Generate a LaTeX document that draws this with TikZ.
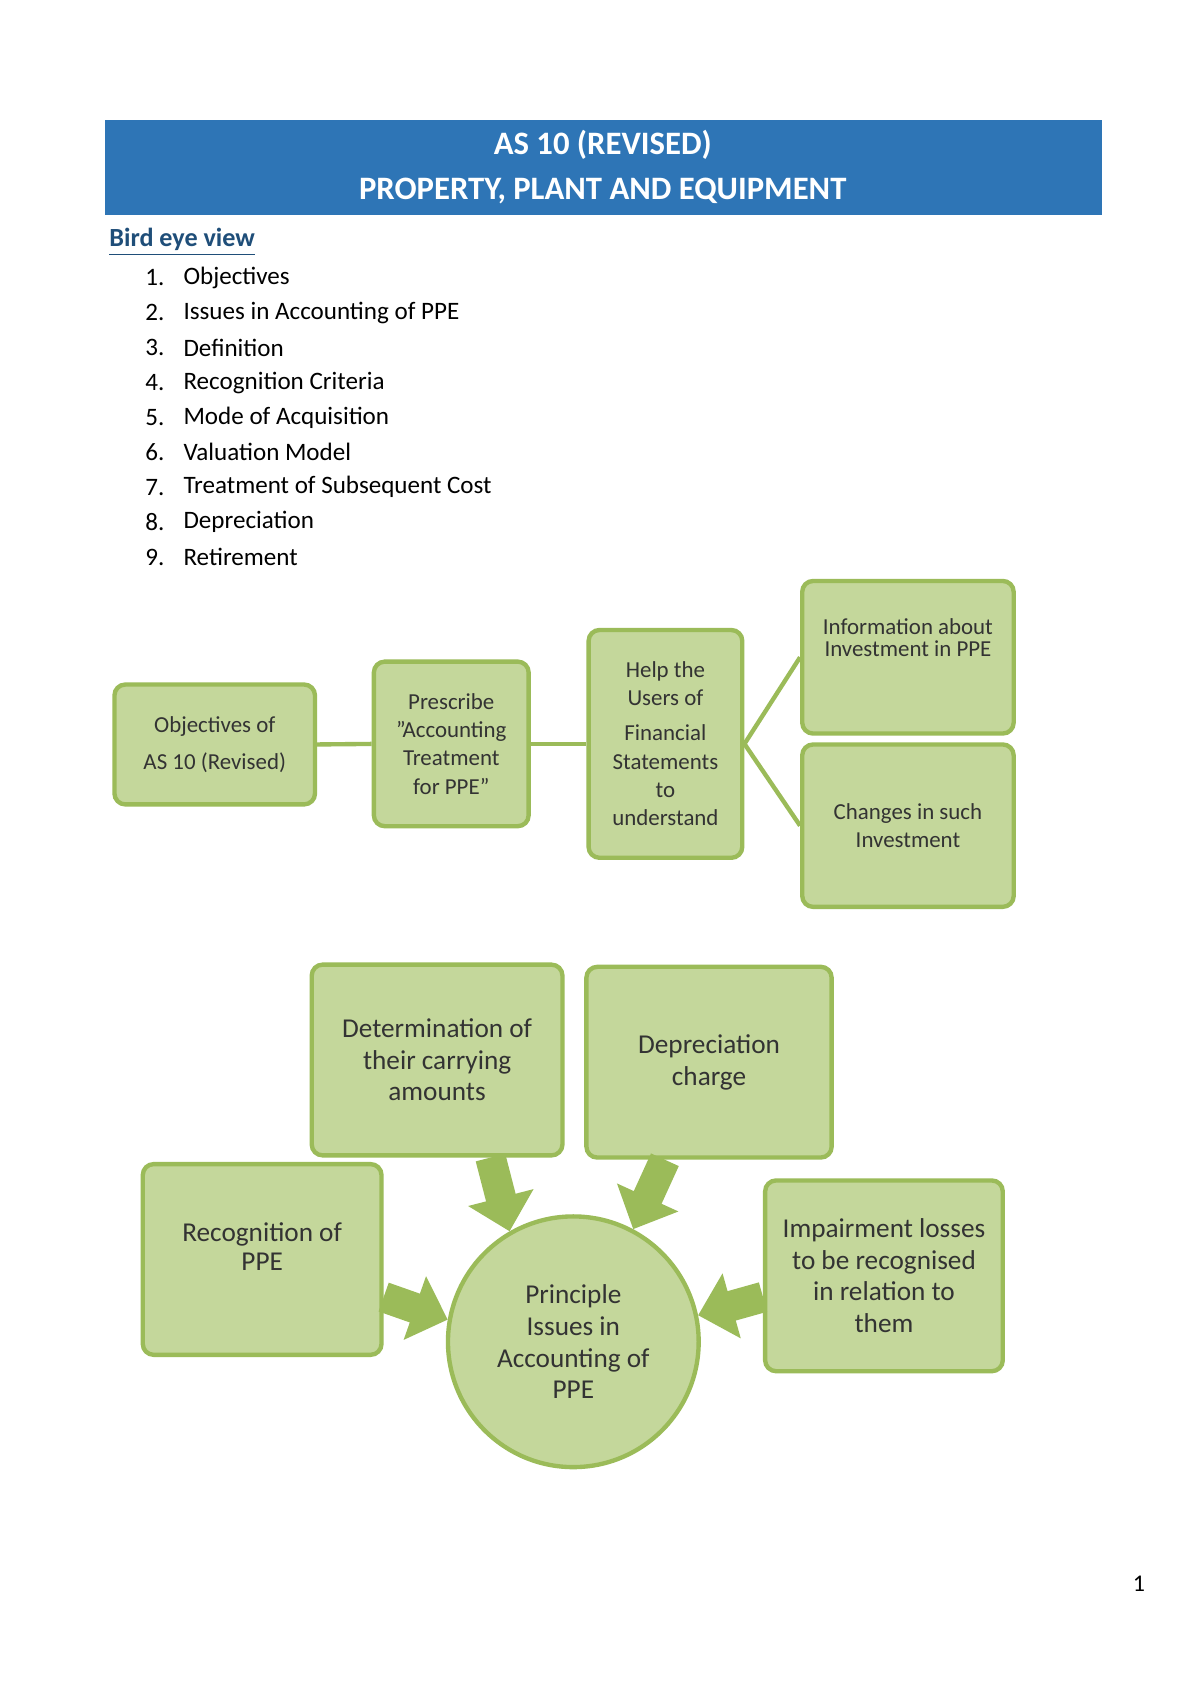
\documentclass[tikz,border=0pt]{standalone}
\usepackage{fontspec}
\setmainfont{Carlito}
\usetikzlibrary{arrows.meta}
\definecolor{titleblue}{RGB}{46,117,182}
\definecolor{darkblue}{RGB}{31,78,121}
\definecolor{gfill}{RGB}{196,215,155}
\definecolor{gline}{RGB}{155,187,89}
\begin{document}
\begin{tikzpicture}[x=0.5pt,y=-0.5pt,
  box/.style={draw=gline,fill=gfill,line width=2pt,rounded corners=5pt,align=center,inner sep=0pt,text=black!80},
  sm/.style={font=\fontsize{10.5}{13}\selectfont},
  bg/.style={font=\fontsize{12.5}{14.5}\selectfont},
  link/.style={draw=gline,line width=2pt},
  barrow/.style={draw=gline,line width=14pt,-{Triangle[length=16pt,width=30pt]},shorten >=0pt}]
\useasboundingbox (0,0) rectangle (1100,1556);
\fill[white] (0,0) rectangle (1100,1556);
% title
\node[fill=titleblue,minimum width=457.5pt,minimum height=43.5pt,inner sep=0pt,anchor=north west] (title) at (96,110) {};
\node[text=white,font=\bfseries\fontsize{15}{20}\selectfont] (t1) at (553,133) {AS 10 (REVISED)};
\node[text=white,font=\bfseries\fontsize{15}{20}\selectfont] (t2) at (553,175) {PROPERTY, PLANT AND EQUIPMENT};
\node[anchor=west,text=darkblue,font=\bfseries\fontsize{12}{14}\selectfont,inner sep=0pt] (bev) at (100,222) {\underline{Bird eye view}};
\foreach \t [count=\i] in {Objectives,Issues in Accounting of PPE,Definition,Recognition Criteria,Mode of Acquisition,Valuation Model,Treatment of Subsequent Cost,Depreciation,Retirement}{
  \node[anchor=west,inner sep=0pt,font=\fontsize{11.5}{14}\selectfont] (n\i) at (133,{255+32*(\i-1)}) {\i.};
  \node[anchor=west,inner sep=0pt,font=\fontsize{11.5}{14}\selectfont] (l\i) at (168,{255+32*(\i-1)}) {\t};
}
% top diagram
\node[box,sm,minimum width=92pt,minimum height=55pt] (obj) at (197,683) {Objectives of\\[4pt]AS 10 (Revised)};
\node[box,sm,minimum width=71pt,minimum height=75.5pt] (pre) at (414,682.5) {Prescribe\\"Accounting\\Treatment\\for PPE"};
\node[box,sm,minimum width=70.5pt,minimum height=104.5pt] (help) at (610.5,682.5) {Help the\\Users of\\[3pt]Financial\\Statements\\to\\understand};
\node[box,sm,minimum width=97pt,minimum height=70pt,text depth=0pt] (info) at (833,603) {\raisebox{18pt}{\shortstack{Information about\\Investment in PPE}}};
\node[box,sm,minimum width=97pt,minimum height=74.5pt] (chg) at (833,757.5) {Changes in such\\Investment};
\draw[link] (obj.east) -- (pre.west);
\draw[link] (pre.east) -- (help.west);
\draw[link] (help.east) -- (info.west);
\draw[link] (help.east) -- (chg.west);
% bottom diagram
\node[box,bg,minimum width=115pt,minimum height=87.5pt] (det) at (401,972.5) {Determination of\\their carrying\\amounts};
\node[box,bg,minimum width=112.5pt,minimum height=87.5pt] (dep) at (650.5,974.5) {Depreciation\\charge};
\node[box,bg,minimum width=109.5pt,minimum height=87.5pt] (rec) at (240.5,1155.5) {\raisebox{12pt}{\shortstack{Recognition of\\PPE}}};
\node[box,bg,minimum width=109pt,minimum height=87.5pt] (imp) at (811,1170.5) {Impairment losses\\to be recognised\\in relation to\\them};
\node[circle,draw=gline,fill=gfill,line width=2pt,minimum size=115pt,inner sep=0pt,align=center,bg,text=black!80] (pr) at (526,1231) {Principle\\Issues in\\Accounting of\\PPE};
\coordinate (a1) at (450,1062);
\coordinate (a2) at (610,1064);
\coordinate (a3) at (352,1190);
\coordinate (a4) at (700,1190);
\draw[barrow] (a1) -- (pr.120);
\draw[barrow] (a2) -- (pr.62);
\draw[barrow] (a3) -- (pr.170);
\draw[barrow] (a4) -- (pr.12);
\node[font=\fontsize{11}{13}\selectfont] (pg) at (1045,1453) {1};
\end{tikzpicture}
\end{document}
